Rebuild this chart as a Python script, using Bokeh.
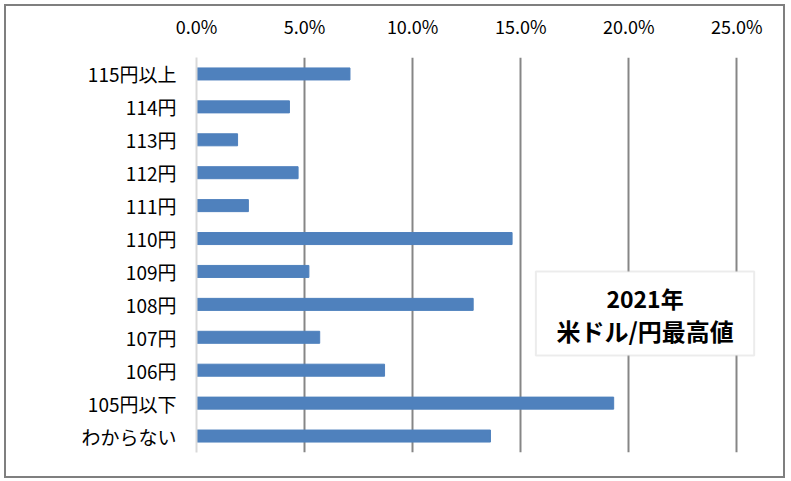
from bokeh.plotting import figure
from bokeh.models import (ColumnDataSource, FactorRange, Range1d, FixedTicker,
                          NumeralTickFormatter, BoxAnnotation, Label)
from bokeh.embed import file_html
from bokeh.resources import INLINE

# answers, top to bottom
categories = ["115円以上", "114円", "113円", "112円", "111円", "110円",
              "109円", "108円", "107円", "106円", "105円以下", "わからない"]
shares = [0.071, 0.043, 0.019, 0.047, 0.024, 0.146,
          0.052, 0.128, 0.057, 0.087, 0.193, 0.136]
tick_values = [0.0, 0.05, 0.10, 0.15, 0.20, 0.25]
box_lines = ["2021年", "米ドル/円最高値"]

JP = "Noto Sans CJK JP"

src = ColumnDataSource(data=dict(cat=categories, share=shares))

p = figure(width=777, height=470,
           y_range=FactorRange(factors=categories[::-1]),
           x_range=Range1d(0, 0.26),
           x_axis_location="above",
           output_backend="svg", toolbar_location=None,
           min_border_left=190, min_border_right=25,
           min_border_top=51, min_border_bottom=24)
# outer frame of the chart, drawn outside the canvas
p.styles = {"outline": "2px solid #7f7f7f", "margin-left": "6px",
            "margin-top": "6px"}
p.outline_line_color = None

p.hbar(y="cat", right="share", left=0, height=0.365, source=src,
       color="#4f81bd")

# top axis: labels only
xa = p.xaxis[0]
xa.ticker = FixedTicker(ticks=tick_values)
xa.formatter = NumeralTickFormatter(format="0.0%")
xa.axis_line_color = None
xa.major_tick_line_color = None
xa.minor_tick_line_color = None
xa.major_label_text_font = JP
xa.major_label_text_font_size = "18px"
xa.major_label_text_color = "black"
xa.major_label_standoff = 13

# left axis: light line at 0, category labels
ya = p.yaxis[0]
ya.axis_line_color = "#d9d9d9"
ya.axis_line_width = 2
ya.major_tick_line_color = None
ya.minor_tick_line_color = None
ya.major_label_text_font = JP
ya.major_label_text_font_size = "19px"
ya.major_label_text_color = "black"
ya.major_label_standoff = 14

p.ygrid.grid_line_color = None
p.xgrid.ticker = FixedTicker(ticks=tick_values[1:])
p.xgrid.grid_line_color = "#868686"
p.xgrid.grid_line_width = 2

# annotation box
p.add_layout(BoxAnnotation(left=0.157, right=0.258, bottom=2.95, top=5.5,
                           fill_color="white", fill_alpha=1,
                           line_color="#bfbfbf", line_width=2))
for txt, yy, fs in zip(box_lines, [4.68, 3.71], ["23px", "24px"]):
    p.add_layout(Label(x=0.2075, y=yy, text=txt, text_align="center",
                       text_baseline="middle", text_font=JP,
                       text_font_size=fs, text_font_style="bold",
                       text_color="black"))

open("out.html", "w").write(file_html(p, INLINE))
